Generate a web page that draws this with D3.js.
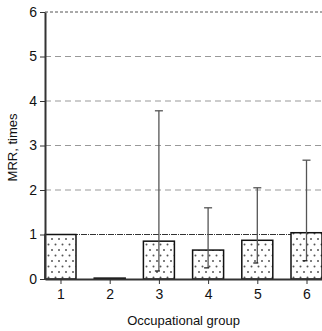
<!DOCTYPE html>
<html>
<head>
<meta charset="utf-8">
<script src="https://cdn.jsdelivr.net/npm/d3@7"></script>
<style>
  body { margin: 0; background: #fff; }
  text { font-family: "Liberation Sans", Arial, sans-serif; }
</style>
</head>
<body>
<div id="chart"></div>
<script>
// occupational groups and MRR values with confidence limits
const groups = [1, 2, 3, 4, 5, 6];
const mrr = [1.0, 0.02, 0.85, 0.65, 0.87, 1.04];
const lower = [null, null, 0.18, 0.25, 0.36, 0.41];
const upper = [null, null, 3.78, 1.6, 2.05, 2.67];
const yTicks = [0, 1, 2, 3, 4, 5, 6];

const width = 322, height = 331;
const plotLeft = 45, plotRight = 322, plotTop = 12, plotBottom = 279;

const svg = d3.select('#chart').append('svg')
  .attr('width', width)
  .attr('height', height);

// dotted fill for bars (staggered dots)
const pat = svg.append('defs').append('pattern')
  .attr('id', 'dots')
  .attr('patternUnits', 'userSpaceOnUse')
  .attr('x', 45).attr('y', 0)
  .attr('width', 7).attr('height', 11);
pat.append('rect').attr('width', 7).attr('height', 11).attr('fill', '#fff');
pat.append('circle').attr('cx', 3.5).attr('cy', 2.5).attr('r', 1).attr('fill', '#555');
pat.append('circle').attr('cx', 0).attr('cy', 8).attr('r', 1).attr('fill', '#555');
pat.append('circle').attr('cx', 7).attr('cy', 8).attr('r', 1).attr('fill', '#555');

const x = d3.scaleLinear().domain([0.685, 6.315]).range([plotLeft, plotRight]);
const y = d3.scaleLinear().domain([0, 6]).range([plotBottom, plotTop]);
const barW = 31;

// grid lines
svg.append('g')
  .selectAll('line')
  .data(yTicks.filter(d => d > 0))
  .enter()
  .append('line')
  .attr('x1', plotLeft).attr('x2', plotRight)
  .attr('y1', d => y(d)).attr('y2', d => y(d))
  .attr('stroke', d => d === 6 ? '#555' : d === 1 ? '#333' : '#999')
  .attr('stroke-width', 1)
  .attr('stroke-dasharray', d => d === 6 ? '3,2' : d === 1 ? '6,1,1,1' : '6,4');

// bars
svg.append('g')
  .selectAll('rect')
  .data(groups)
  .enter()
  .append('rect')
  .attr('x', (d, i) => x(d) - barW / 2)
  .attr('y', (d, i) => y(mrr[i]))
  .attr('width', barW)
  .attr('height', (d, i) => y(0) - y(mrr[i]))
  .attr('fill', 'url(#dots)')
  .attr('stroke', '#111')
  .attr('stroke-width', 1.5);

// error bars
const eb = svg.append('g');
groups.forEach((g, i) => {
  if (upper[i] == null) return;
  const cx = x(g);
  eb.append('line')
    .attr('x1', cx).attr('x2', cx)
    .attr('y1', y(upper[i])).attr('y2', y(lower[i]))
    .attr('stroke', '#555').attr('stroke-width', 1.3);
  eb.append('line')
    .attr('x1', cx - 4).attr('x2', cx + 4)
    .attr('y1', y(upper[i])).attr('y2', y(upper[i]))
    .attr('stroke', '#555').attr('stroke-width', 1.3);
  eb.append('line')
    .attr('x1', cx - 4).attr('x2', cx + 1)
    .attr('y1', y(lower[i])).attr('y2', y(lower[i]))
    .attr('stroke', '#222').attr('stroke-width', 1.3);
});

// axes
const yAxis = svg.append('g')
  .attr('transform', `translate(${plotLeft},0)`)
  .call(d3.axisLeft(y).tickValues(yTicks).tickFormat(d3.format('d'))
    .tickSize(5).tickPadding(3).tickSizeOuter(0));
const xAxis = svg.append('g')
  .attr('transform', `translate(0,${plotBottom})`)
  .call(d3.axisBottom(x).tickValues(groups).tickFormat(d3.format('d'))
    .tickSize(5).tickPadding(5).tickSizeOuter(0));

[yAxis, xAxis].forEach(a => {
  a.select('.domain').attr('stroke', '#333').attr('stroke-width', 2);
  a.selectAll('.tick line').attr('stroke', '#333');
  a.selectAll('.tick text').attr('fill', '#111')
    .style('font-family', '"Liberation Sans", Arial, sans-serif')
    .style('font-size', '14px');
});

svg.append('text')
  .attr('x', (plotLeft + plotRight) / 2)
  .attr('y', 325)
  .attr('text-anchor', 'middle')
  .style('font-size', '13px')
  .attr('fill', '#111')
  .text('Occupational group');

svg.append('text')
  .attr('transform', `translate(17,${(plotTop + plotBottom) / 2 + 2}) rotate(-90)`)
  .attr('text-anchor', 'middle')
  .style('font-size', '13px')
  .attr('fill', '#111')
  .text('MRR, times');
</script>
</body>
</html>
